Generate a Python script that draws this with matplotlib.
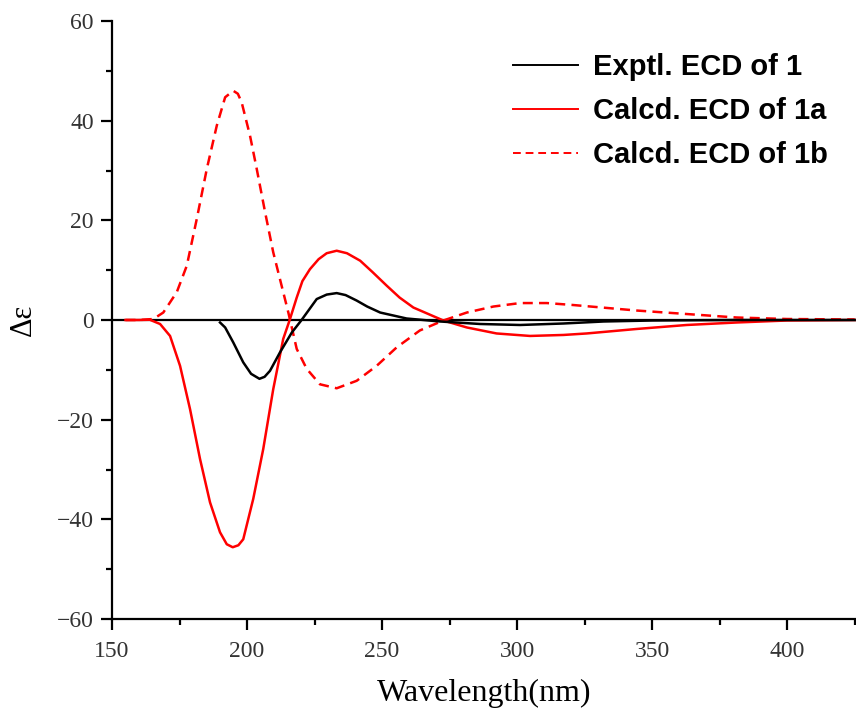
import matplotlib
matplotlib.use('Agg')
import matplotlib.pyplot as plt
from matplotlib.ticker import MultipleLocator

# wavelength (nm) / delta epsilon
exp_x = [190, 191.9, 194.9, 198.6, 201.5, 204.6, 206.5, 208.5, 212.2, 216.6, 220.2, 225.8, 229.5,
         233.2, 236.5, 240.6, 244.5, 249.3, 259.1, 271.5, 286.3, 301.1, 317.2, 332, 350, 380, 425]
exp_y = [-0.5, -1.5, -4.5, -8.5, -10.8, -11.8, -11.4, -10.2, -6.5, -2.5, 0, 4.2, 5.1,
         5.4, 5.0, 3.9, 2.7, 1.5, 0.3, -0.3, -0.8, -1.0, -0.7, -0.3, -0.1, 0, 0]

a_x = [155, 160, 164, 167.8, 171.5, 175.2, 178.9, 182.6, 186.3, 190, 192.5, 194.7, 196.8, 198.6,
       202.3, 206, 209.7, 213.4, 215.8, 218.4, 220.5, 223.3, 226.5, 229.5, 233.2, 237, 241.9,
       246.5, 251.7, 256.5, 261.6, 272.7, 281.4, 292.4, 304.8, 317.2, 325.8, 344.3, 362.8,
       381.3, 399.9, 425]
a_y = [0, 0, 0.05, -0.8, -3.2, -9.2, -17.9, -27.9, -36.6, -42.6, -45.0, -45.6, -45.2, -44,
       -35.9, -25.9, -13.9, -3.8, 0, 4.5, 7.8, 10.2, 12.2, 13.4, 13.9, 13.4, 11.9,
       9.6, 6.9, 4.5, 2.5, -0.1, -1.5, -2.7, -3.2, -3.0, -2.7, -1.8, -1.0, -0.5, -0.1, 0]

b_x = [155, 160, 165.3, 169, 174, 177.7, 181.4, 185.1, 188.8, 191.9, 194.9, 196.6, 198, 201.1,
       203.6, 206.7, 209.7, 212.8, 215.3, 218.4, 222.1, 227, 233.2, 240.6, 248, 255.4, 264, 272.7,
       281.4, 291.2, 301.1, 311, 320.9, 344.3, 362.8, 381.3, 399.9, 425]
b_y = [0, 0, 0.2, 1.5, 5.6, 10.9, 20.3, 30.3, 39.0, 44.7, 46.0, 45.4, 43.7, 37,
       30.3, 21.6, 13.6, 6.9, 1.5, -5.8, -9.8, -12.9, -13.7, -12.2, -9.2, -5.5, -2.1, -0.1,
       1.5, 2.7, 3.4, 3.4, 3.0, 1.9, 1.2, 0.5, 0.2, 0.1]

labels = ['Exptl. ECD of 1', 'Calcd. ECD of 1a', 'Calcd. ECD of 1b']

serif = 'Liberation Serif'
fig = plt.figure(figsize=(8.56, 7.09), dpi=100)
ax = fig.add_axes([112 / 856, 1 - 619 / 709, 1 - 112 / 856, (619 - 21) / 709])

ax.axhline(0, color='black', lw=1.6, zorder=1)
ax.plot(exp_x, exp_y, color='black', lw=1.8, label=labels[0], zorder=3)
ax.plot(a_x, a_y, color='#ff0000', lw=1.8, label=labels[1], zorder=2)
ax.plot(b_x, b_y, color='#ff0000', lw=1.8, ls=(0, (4, 2.5)), label=labels[2], zorder=2)

ax.set_xlim(150, 425.5)
ax.set_ylim(-60, 60)
ax.xaxis.set_major_locator(MultipleLocator(50))
ax.xaxis.set_minor_locator(MultipleLocator(25))
ax.yaxis.set_major_locator(MultipleLocator(20))
ax.yaxis.set_minor_locator(MultipleLocator(10))
ax.spines['top'].set_visible(False)
ax.spines['right'].set_visible(False)
for s in ('left', 'bottom'):
    ax.spines[s].set_linewidth(1.6)
ax.tick_params(which='major', direction='out', length=8, width=1.6, labelsize=17,
               labelcolor='#333333')
ax.tick_params(axis='x', which='major', pad=8)
ax.tick_params(axis='y', which='major', pad=5)
ax.tick_params(which='minor', direction='out', length=4.5, width=1.6)
for t in ax.get_xticklabels() + ax.get_yticklabels():
    t.set_fontfamily(serif)

ax.set_xlabel('Wavelength(nm)', fontsize=23, fontfamily=serif, labelpad=12)
ax.set_ylabel('Δε', fontsize=22, fontfamily=serif, labelpad=14)

leg = ax.legend(loc='upper left', bbox_to_anchor=(513 / 856, 1 - 53 / 709),
                bbox_transform=fig.transFigure, frameon=False, borderpad=0, borderaxespad=0,
                handlelength=2.23, handletextpad=0.5, labelspacing=0.55,
                prop={'family': 'Liberation Sans', 'weight': 'bold', 'size': 21})
for h in leg.get_lines():
    h.set_linewidth(1.4)

fig.savefig('out.png', dpi=100)
